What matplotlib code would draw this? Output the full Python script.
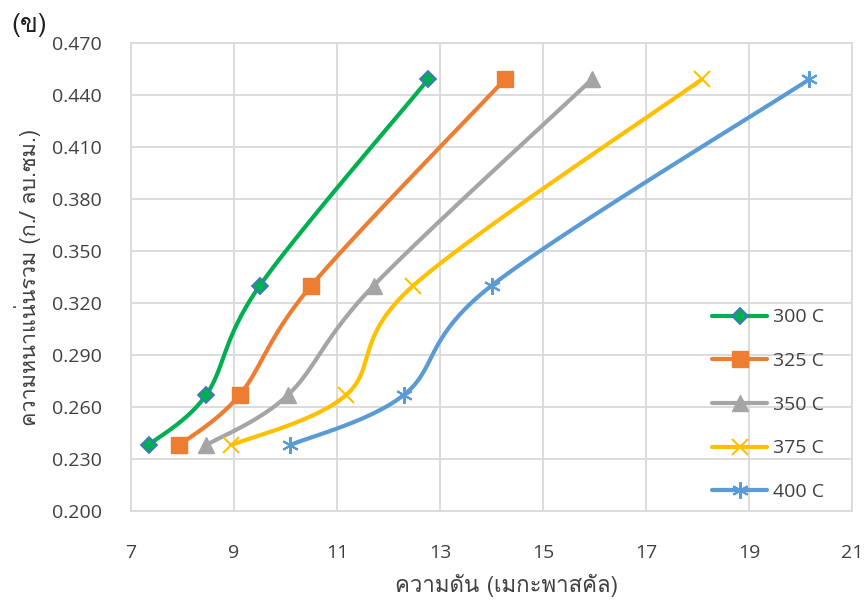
import numpy as np
import matplotlib
matplotlib.use("Agg")
import matplotlib.pyplot as plt
from matplotlib import font_manager
from matplotlib.lines import Line2D

# ---- data -------------------------------------------------------------
density = [0.238, 0.267, 0.330, 0.449]          # g / cm3
p_300 = [7.34, 8.46, 9.50, 12.77]               # MPa
p_325 = [7.94, 9.11, 10.50, 14.26]
p_350 = [8.46, 10.05, 11.71, 15.95]
p_375 = [8.95, 11.18, 12.48, 18.08]
p_400 = [10.09, 12.30, 14.00, 20.17]
series_labels = ["300 C", "325 C", "350 C", "375 C", "400 C"]
x_ticks = [7, 9, 11, 13, 15, 17, 19, 21]
y_ticks = [0.200, 0.230, 0.260, 0.290, 0.320, 0.350, 0.380, 0.410, 0.440, 0.470]
x_label = "ความดัน (เมกะพาสคัล)"
y_label = "ความหนาแน่นรวม (ก./ ลบ.ซม.)"
panel_label = "(ข)"


def find_thai_font():
    """Return the name of an installed family that covers Thai glyphs."""
    from matplotlib.ft2font import FT2Font
    for f in font_manager.fontManager.ttflist:
        try:
            cmap = FT2Font(f.fname).get_charmap()
        except Exception:
            continue
        if 0x0E04 in cmap and 0x0E21 in cmap:
            return f.name
    return None


thai = find_thai_font()
latin = ["Open Sans", "DejaVu Sans"]
thai_families = ([thai] if thai else []) + latin
plt.rcParams["font.family"] = latin


def smooth(xs, ys, n=40):
    """Catmull-Rom style Bezier smoothing through the points."""
    P = np.column_stack([xs, ys]).astype(float)
    out = [P[0]]
    for i in range(len(P) - 1):
        p0 = P[i - 1] if i > 0 else P[i]
        p1, p2 = P[i], P[i + 1]
        p3 = P[i + 2] if i + 2 < len(P) else P[i + 1]
        c1 = p1 + (p2 - p0) / 6.0
        c2 = p2 - (p3 - p1) / 6.0
        t = np.linspace(0, 1, n)[1:, None]
        seg = ((1 - t) ** 3) * p1 + 3 * ((1 - t) ** 2) * t * c1 \
            + 3 * (1 - t) * t ** 2 * c2 + t ** 3 * p2
        out.extend(seg)
    out = np.array(out)
    return out[:, 0], out[:, 1]


fig = plt.figure(figsize=(8.67, 6.03), dpi=100)
ax = fig.add_axes([131 / 867, 1 - 511 / 603, (852 - 131) / 867, (511 - 43) / 603])

styles = [
    dict(color="#00B050", marker="D", ms=8, mfc="#00B050", mec="#4472C4", mew=1.3),
    dict(color="#ED7D31", marker="s", ms=11, mfc="#ED7D31", mec="#ED7D31", mew=1),
    dict(color="#A5A5A5", marker="^", ms=11, mfc="#A5A5A5", mec="#A5A5A5", mew=1),
    dict(color="#FFC000", marker="x", ms=11, mfc="none", mec="#FFC000", mew=1.5),
    dict(color="#5B9BD5", marker=(6, 2, 0), ms=12, mfc="none", mec="#5B9BD5", mew=1.5),
]
all_p = [p_300, p_325, p_350, p_375, p_400]

handles = []
for p, st, lab in zip(all_p, styles, series_labels):
    sx, sy = smooth(p, density)
    ax.plot(sx, sy, color=st["color"], lw=3.0, solid_capstyle="round", zorder=3)
    ax.plot(p, density, ls="none", marker=st["marker"], ms=st["ms"],
            mfc=st["mfc"], mec=st["mec"], mew=st["mew"], zorder=4)
    handles.append(Line2D([0], [0], color=st["color"], lw=3.0, marker=st["marker"],
                          ms=st["ms"], mfc=st["mfc"], mec=st["mec"], mew=st["mew"],
                          solid_capstyle="round", label=lab))

ax.set_xlim(7, 21)
ax.set_ylim(0.200, 0.470)
ax.set_xticks(x_ticks)
ax.set_yticks(y_ticks)
ax.set_xticklabels([str(v) for v in x_ticks])
ax.set_yticklabels([f"{v:.3f}" for v in y_ticks])
ax.grid(True, color="#D9D9D9", lw=1.3, zorder=0)
ax.set_axisbelow(True)
for s in ax.spines.values():
    s.set_color("#D9D9D9")
    s.set_linewidth(1.3)
ax.tick_params(length=0, labelsize=14, colors="#404040")
ax.tick_params(axis="y", pad=21)
ax.tick_params(axis="x", pad=24)

ax.set_xlabel(x_label, fontsize=16, color="#404040", labelpad=6,
              family=thai_families, fontweight="light")
ax.xaxis.set_label_coords(0.521, -0.135)
ax.set_ylabel(y_label, fontsize=15.5, color="#404040", labelpad=8,
              family=thai_families, fontweight="light")
fig.text(11 / 867, 1 - 25 / 603, panel_label, fontsize=19, color="#202020",
         va="center", family=thai_families)

leg = ax.legend(handles=handles, loc="lower right", bbox_to_anchor=(0.985, -0.016),
                frameon=False, fontsize=14, handlelength=2.8, labelspacing=1.32,
                handletextpad=0.3, labelcolor="#404040")

fig.savefig("out.png", dpi=100)
